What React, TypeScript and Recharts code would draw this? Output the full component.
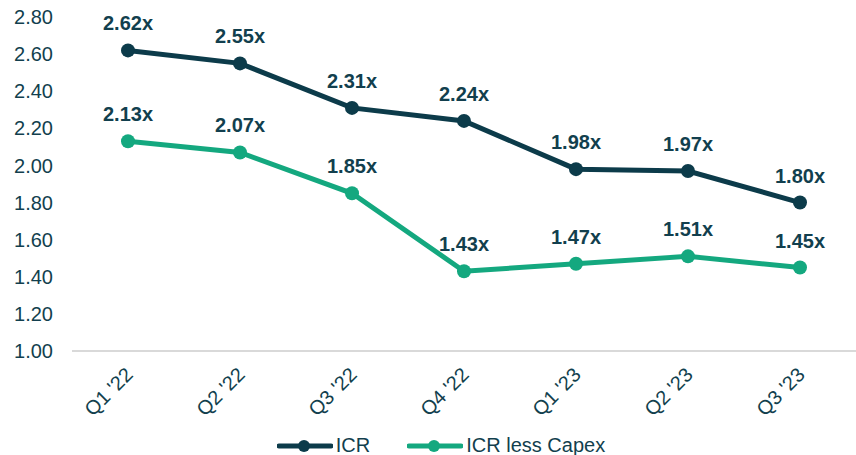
import { LineChart, Line, XAxis, YAxis, Legend, LabelList } from 'recharts';

const quarters = ["Q1 '22", "Q2 '22", "Q3 '22", "Q4 '22", "Q1 '23", "Q2 '23", "Q3 '23"];
const icr = [2.62, 2.55, 2.31, 2.24, 1.98, 1.97, 1.8];
const icrLessCapex = [2.13, 2.07, 1.85, 1.43, 1.47, 1.51, 1.45];
const yTicks = [1, 1.2, 1.4, 1.6, 1.8, 2, 2.2, 2.4, 2.6, 2.8];

const data = quarters.map((q, i) => ({ name: q, icr: icr[i], capex: icrLessCapex[i] }));

const NAVY = '#0c3b4a';
const GREEN = '#14a87f';
const TEXT = '#123f4e';
const FONT = '"Liberation Sans", Arial, sans-serif';

const XTick = ({ x, y, payload }: any) => (
  <text
    x={x + 6}
    y={y + 17}
    transform={`rotate(-45 ${x + 6} ${y + 17})`}
    textAnchor="end"
    fill={TEXT}
    fontSize={20}
    fontFamily={FONT}
  >
    {payload.value}
  </text>
);

const LegendContent = () => {
  const items = [
    { label: 'ICR', color: NAVY },
    { label: 'ICR less Capex', color: GREEN },
  ];
  return (
    <div
      style={{
        display: 'flex',
        justifyContent: 'center',
        gap: 37,
        paddingLeft: 26,
        paddingTop: 9,
        fontFamily: FONT,
        fontSize: 20,
        color: TEXT,
      }}
    >
      {items.map((it) => (
        <div key={it.label} style={{ display: 'flex', alignItems: 'center' }}>
          <svg width={56} height={14} style={{ marginRight: 3 }}>
            <line x1={2} y1={7} x2={54} y2={7} stroke={it.color} strokeWidth={5} strokeLinecap="round" />
            <circle cx={27} cy={7} r={6} fill={it.color} />
          </svg>
          <span>{it.label}</span>
        </div>
      ))}
    </div>
  );
};

const fmt = (v: any) => `${Number(v).toFixed(2)}x`;

export default function App() {
  return (
    <div style={{ position: 'absolute', left: 0, top: 0, background: '#fff' }}>
      <LineChart width={856} height={455} data={data} margin={{ top: 17, right: 0, left: 0, bottom: 0 }}>
        <XAxis
          dataKey="name"
          height={74}
          interval={0}
          padding={{ left: 56, right: 56 }}
          tick={<XTick />}
          tickLine={false}
          axisLine={{ stroke: '#d9d9d9', strokeWidth: 2 }}
        />
        <YAxis
          width={72}
          domain={[1, 2.8]}
          ticks={yTicks}
          tickFormatter={(v: number) => v.toFixed(2)}
          tickLine={false}
          axisLine={false}
          tickSize={0}
          tickMargin={19}
          tick={{ fill: TEXT, fontSize: 20, fontFamily: FONT }}
        />
        <Legend verticalAlign="bottom" height={30} content={<LegendContent />} />
        <Line
          dataKey="icr"
          stroke={NAVY}
          strokeWidth={5}
          dot={{ r: 7, fill: NAVY, stroke: NAVY, strokeWidth: 0 }}
          isAnimationActive={false}
        >
          <LabelList dataKey="icr" position="top" offset={20} formatter={fmt} fill={TEXT} fontSize={20} fontWeight="bold" fontFamily={FONT} />
        </Line>
        <Line
          dataKey="capex"
          stroke={GREEN}
          strokeWidth={5}
          dot={{ r: 7, fill: GREEN, stroke: GREEN, strokeWidth: 0 }}
          isAnimationActive={false}
        >
          <LabelList dataKey="capex" position="top" offset={20} formatter={fmt} fill={TEXT} fontSize={20} fontWeight="bold" fontFamily={FONT} />
        </Line>
      </LineChart>
    </div>
  );
}
